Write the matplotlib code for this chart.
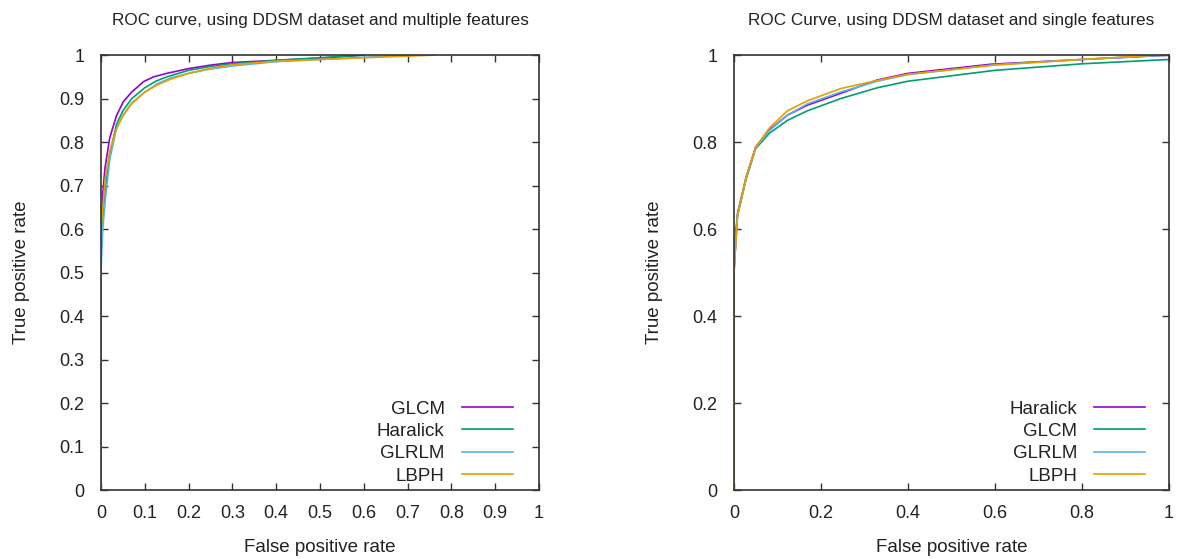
import matplotlib
matplotlib.use("Agg")
import matplotlib.pyplot as plt
from matplotlib.ticker import FormatStrFormatter, MultipleLocator

plt.rcParams['font.family'] = ['Liberation Sans', 'DejaVu Sans']

# ---------- data: left panel (multiple features) ----------
left_names = ["GLCM", "Haralick", "GLRLM", "LBPH"]
left_fpr = {
    "GLCM":     [0, 0, 0.004, 0.009, 0.02, 0.035, 0.051, 0.07, 0.097, 0.12, 0.15, 0.2, 0.25, 0.3, 0.4, 0.5, 0.6],
    "Haralick": [0, 0, 0.006, 0.012, 0.022, 0.035, 0.05, 0.07, 0.1, 0.125, 0.15, 0.2, 0.25, 0.3, 0.4, 0.5, 0.6],
    "GLRLM":    [0, 0, 0.004, 0.01, 0.02, 0.035, 0.05, 0.07, 0.1, 0.13, 0.16, 0.2, 0.25, 0.3, 0.4, 0.5, 0.7],
    "LBPH":     [0, 0, 0.004, 0.01, 0.02, 0.035, 0.05, 0.07, 0.1, 0.13, 0.16, 0.2, 0.25, 0.3, 0.4, 0.5, 0.76],
}
left_tpr = {
    "GLCM":     [0, 0.6, 0.68, 0.74, 0.81, 0.86, 0.893, 0.915, 0.939, 0.95, 0.958, 0.969, 0.977, 0.983, 0.988, 0.993, 1.0],
    "Haralick": [0, 0.57, 0.64, 0.71, 0.78, 0.84, 0.872, 0.9, 0.925, 0.94, 0.95, 0.965, 0.974, 0.98, 0.988, 0.994, 1.0],
    "GLRLM":    [0, 0.5, 0.6, 0.67, 0.76, 0.83, 0.862, 0.89, 0.915, 0.935, 0.948, 0.958, 0.968, 0.975, 0.985, 0.99, 1.0],
    "LBPH":     [0, 0.6, 0.65, 0.72, 0.78, 0.83, 0.86, 0.888, 0.915, 0.932, 0.945, 0.958, 0.97, 0.978, 0.986, 0.99, 1.0],
}

# ---------- data: right panel (single features) ----------
right_names = ["Haralick", "GLCM", "GLRLM", "LBPH"]
right_fpr = {
    "Haralick": [0, 0, 0.008, 0.028, 0.05, 0.081, 0.123, 0.169, 0.245, 0.33, 0.4, 0.59, 0.8, 1.0],
    "GLCM":     [0, 0, 0.008, 0.028, 0.05, 0.081, 0.123, 0.169, 0.245, 0.33, 0.4, 0.6, 0.8, 1.0],
    "GLRLM":    [0, 0, 0.008, 0.028, 0.05, 0.081, 0.123, 0.169, 0.245, 0.33, 0.4, 0.6, 0.8, 1.0],
    "LBPH":     [0, 0, 0.008, 0.028, 0.05, 0.081, 0.123, 0.169, 0.245, 0.33, 0.4, 0.6, 0.8, 0.97],
}
right_tpr = {
    "Haralick": [0, 0.5, 0.635, 0.72, 0.789, 0.828, 0.862, 0.885, 0.912, 0.943, 0.958, 0.979, 0.99, 1.0],
    "GLCM":     [0, 0.56, 0.63, 0.715, 0.785, 0.82, 0.85, 0.872, 0.9, 0.925, 0.94, 0.965, 0.98, 0.99],
    "GLRLM":    [0, 0.5, 0.63, 0.718, 0.787, 0.826, 0.862, 0.888, 0.915, 0.94, 0.955, 0.978, 0.99, 1.0],
    "LBPH":     [0, 0.5, 0.63, 0.72, 0.788, 0.832, 0.872, 0.895, 0.923, 0.942, 0.956, 0.977, 0.99, 1.0],
}

colors = ["#9400D3", "#009E73", "#56B4E9", "#E69F00"]


def style_axes(ax, xstep, ystep, title, leg_anchor):
    ax.set_xlim(0, 1)
    ax.set_ylim(0, 1)
    ax.xaxis.set_major_locator(MultipleLocator(xstep))
    ax.yaxis.set_major_locator(MultipleLocator(ystep))
    ax.xaxis.set_major_formatter(FormatStrFormatter('%g'))
    ax.yaxis.set_major_formatter(FormatStrFormatter('%g'))
    ax.tick_params(direction='in', top=True, right=True, length=5, width=1,
                   color='#333333', labelsize=13, labelcolor='#222222')
    ax.tick_params(axis='x', pad=11)
    ax.tick_params(axis='y', pad=12)
    for s in ax.spines.values():
        s.set_color('#333333')
        s.set_linewidth(1.2)
    ax.set_xlabel("False positive rate", fontsize=13.5, labelpad=12, color='#222222')
    ax.set_ylabel("True positive rate", fontsize=13.5, labelpad=21, color='#222222')
    ax.set_title(title, fontsize=12.3, pad=22, color='#222222')
    ax.legend(loc='lower right', bbox_to_anchor=leg_anchor, frameon=False,
              markerfirst=False, fontsize=13.5,
              handlelength=2.75, handletextpad=0.9, labelspacing=0.28,
              borderaxespad=0.0, borderpad=0.4, labelcolor='#222222')


fig = plt.figure(figsize=(11.8, 5.59), dpi=100)
ax1 = fig.add_axes([0.0856, 0.1234, 0.3712, 0.778])
ax2 = fig.add_axes([0.6220, 0.1234, 0.3686, 0.778])

for name, c in zip(left_names, colors):
    ax1.plot(left_fpr[name], left_tpr[name], color=c, lw=1.2, label=name)
style_axes(ax1, 0.1, 0.1, "ROC curve, using DDSM dataset and multiple features",
           (0.958, -0.005))

for name, c in zip(right_names, colors):
    ax2.plot(right_fpr[name], right_tpr[name], color=c, lw=1.2, label=name)
style_axes(ax2, 0.2, 0.2, "ROC Curve, using DDSM dataset and single features",
           (0.963, -0.005))

fig.savefig("out.png", dpi=100)
